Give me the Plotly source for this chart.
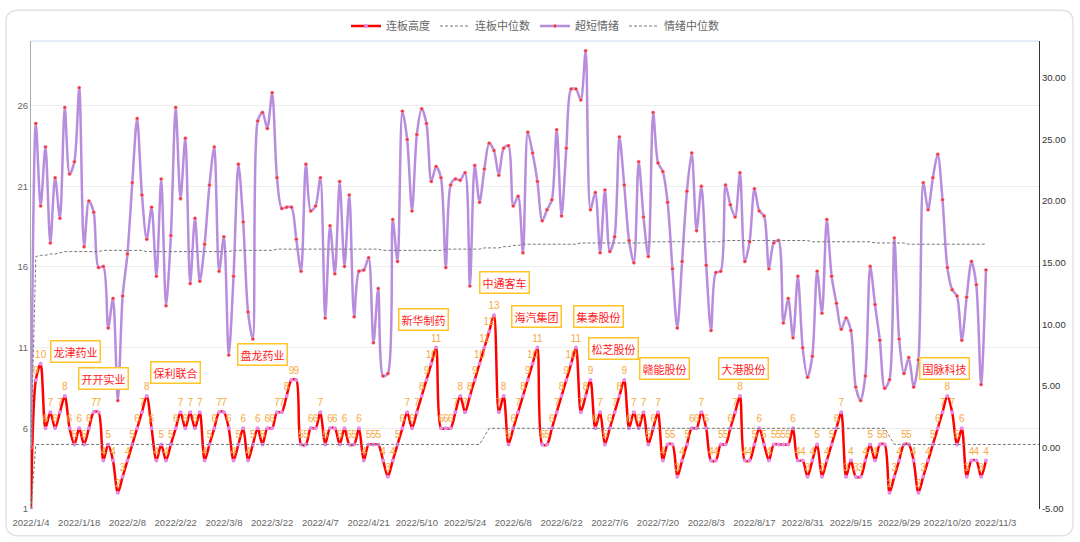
import pandas as pd
import plotly.graph_objects as go

# ---------------- data ----------------
holidays = ['2022-01-31', '2022-02-01', '2022-02-02', '2022-02-03', '2022-02-04',
            '2022-04-04', '2022-04-05', '2022-05-02', '2022-05-03', '2022-05-04',
            '2022-06-03', '2022-09-12', '2022-10-03', '2022-10-04', '2022-10-05',
            '2022-10-06', '2022-10-07']
all_days = pd.bdate_range('2022-01-04', '2022-12-31')
trade_days = [d for d in all_days if d.strftime('%Y-%m-%d') not in holidays][:210]
date_labels = [f"{d.year}/{d.month}/{d.day}" for d in trade_days]

# 连板高度 (left axis)
board_height = [1, 9, 10, 6, 7, 6, 7, 8, 6, 5, 6, 5, 6, 7, 7, 4, 5, 4, 2, 3,
                4, 5, 6, 7, 8, 6, 4, 5, 4, 5, 6, 7, 6, 7, 6, 7, 4, 5, 6, 7,
                7, 6, 4, 5, 6, 4, 5, 6, 5, 6, 6, 7, 7, 8, 9, 9, 5, 5, 6, 6,
                7, 5, 6, 6, 5, 6, 5, 5, 6, 4, 5, 5, 5, 4, 3, 4, 5, 6, 7, 6,
                7, 8, 9, 10, 11, 6, 6, 6, 7, 8, 7, 8, 9, 10, 11, 12, 13, 7, 8, 5,
                6, 7, 8, 9, 10, 11, 5, 5, 6, 7, 8, 9, 10, 11, 7, 8, 9, 6, 7, 5,
                6, 7, 8, 9, 6, 7, 6, 7, 5, 6, 7, 4, 5, 5, 3, 4, 5, 6, 6, 7,
                6, 4, 4, 5, 5, 6, 7, 8, 4, 4, 5, 6, 5, 4, 5, 5, 5, 5, 6, 4,
                4, 3, 4, 5, 3, 4, 5, 6, 7, 3, 4, 3, 3, 4, 5, 4, 5, 5, 2, 3,
                4, 5, 5, 4, 2, 3, 4, 5, 6, 7, 8, 7, 5, 6, 3, 4, 4, 3, 4]

# 连板中位数 (left axis)
board_median = ([1] + [5] * 93 + [5.5] + [6] * 83 + [5.5] + [5] * 31)

# 超短情绪 (right axis)
sentiment = [0, 26.3, 19.6, 24.4, 16.6, 21.9, 18.6, 27.6, 22.2, 23.2,
             29.2, 16.3, 20.0, 19.1, 14.6, 14.7, 9.7, 12.1, 3.8, 12.3,
             15.7, 21.5, 26.7, 20.5, 16.9, 19.5, 13.9, 21.8, 11.5, 17.2,
             27.6, 20.2, 25.1, 13.3, 18.6, 13.5, 16.5, 21.3, 24.4, 14.3,
             17.1, 7.5, 13.9, 23.0, 18.3, 11.0, 8.8, 26.5, 27.2, 25.9,
             28.8, 21.9, 19.4, 19.5, 19.5, 16.9, 14.3, 23.0, 19.2, 19.6,
             21.9, 10.5, 18.0, 14.1, 21.6, 14.7, 20.5, 10.6, 14.3, 14.4,
             15.4, 8.5, 12.9, 5.8, 6.0, 18.5, 15.1, 27.3, 25.0, 19.2,
             25.4, 27.5, 26.3, 21.6, 22.8, 21.9, 14.6, 21.3, 21.8, 21.7,
             22.3, 13.1, 22.9, 19.9, 22.6, 24.7, 24.1, 22.1, 24.3, 24.5,
             19.6, 20.4, 15.8, 25.6, 23.9, 21.6, 18.4, 19.3, 20.1, 25.8,
             18.8, 24.3, 29.1, 29.1, 28.2, 32.2, 19.3, 20.7, 15.8, 20.9,
             15.9, 17.1, 25.2, 21.3, 16.8, 15.0, 23.2, 18.7, 15.5, 27.2,
             23.1, 22.4, 19.9, 14.5, 9.7, 15.1, 20.8, 23.9, 17.6, 21.2,
             14.8, 9.5, 14.2, 14.3, 21.3, 19.7, 18.7, 22.3, 15.1, 16.7,
             21.0, 19.2, 18.8, 14.5, 16.6, 16.8, 10.1, 12.1, 8.9, 13.9,
             8.1, 5.7, 7.4, 14.3, 10.9, 18.5, 13.9, 11.7, 9.6, 10.5,
             9.5, 4.9, 3.8, 5.8, 14.7, 11.6, 8.7, 4.8, 5.5, 17.0,
             8.8, 6.0, 7.3, 4.9, 7.1, 21.5, 19.3, 21.9, 23.8, 20.1,
             14.6, 12.8, 12.3, 8.7, 12.2, 15.1, 13.2, 5.1, 14.4]

# 情绪中位数 (right axis)
sentiment_median = [0, 15.5, 15.6, 15.6, 15.7,
                    15.7, 15.8, 15.9, 15.9, 15.9,
                    15.9, 15.9, 15.9, 15.9, 15.9, 16.0, 16.0, 16.0, 16.0, 16.0,
                    16.0, 16.0, 16.0, 16.0, 15.9, 15.9, 15.9, 15.9, 15.9, 15.9,
                    15.9, 15.9, 15.9, 15.9, 15.9, 15.9, 15.9, 15.9, 15.9, 15.9,
                    15.9, 15.9, 16.0, 16.0, 16.0, 16.0, 16.0, 16.0, 16.0, 16.0,
                    16.0, 16.1, 16.1, 16.1, 16.1, 16.1, 16.1, 16.1, 16.1, 16.1,
                    16.1, 16.1, 16.1, 16.1, 16.1, 16.1, 16.1, 16.1, 16.1, 16.1,
                    16.1, 16.1, 16.1, 16.0, 16.0, 16.0, 16.0, 16.0, 16.0, 16.0,
                    16.0, 16.0, 16.0, 16.0, 16.0, 16.0, 16.1, 16.1, 16.1, 16.1,
                    16.1, 16.1, 16.1, 16.1, 16.2, 16.2, 16.2, 16.2, 16.3, 16.3,
                    16.4, 16.4, 16.5, 16.5, 16.5, 16.5, 16.5, 16.5, 16.5, 16.5,
                    16.5, 16.5, 16.5, 16.5, 16.6, 16.6, 16.6, 16.6, 16.6, 16.6,
                    16.6, 16.6, 16.6, 16.6, 16.6, 16.6, 16.6, 16.6, 16.7, 16.7,
                    16.7, 16.7, 16.7, 16.7, 16.7, 16.7, 16.7, 16.7, 16.7, 16.7,
                    16.7, 16.7, 16.7, 16.7, 16.8, 16.8, 16.8, 16.8, 16.8, 16.8,
                    16.8, 16.8, 16.8, 16.8, 16.8, 16.8, 16.8, 16.8, 16.8, 16.8,
                    16.8, 16.8, 16.7, 16.7, 16.7, 16.7, 16.7, 16.7, 16.7, 16.7,
                    16.7, 16.7, 16.7, 16.7, 16.7, 16.6, 16.6, 16.6, 16.6, 16.6,
                    16.6, 16.6, 16.5, 16.5, 16.5, 16.5, 16.5, 16.5, 16.5, 16.5,
                    16.5, 16.5, 16.5, 16.5, 16.5, 16.5, 16.5, 16.5, 16.5]

# leader stock callouts: name, x (trading-day index), y (left-axis value)
leader_names = ['龙津药业', '开开实业', '保利联合', '盘龙药业', '新华制药', '中通客车',
                '海汽集团', '集泰股份', '松芝股份', '赣能股份', '大港股份', '国脉科技']
leader_x = [9.2, 15.0, 29.9, 47.9, 81.4, 98.1, 104.8, 117.6, 120.8, 131.4, 147.7, 189.5]
leader_y = [10.77, 9.09, 9.48, 10.56, 12.76, 15.05, 12.94, 12.94, 10.95, 9.68, 9.70, 9.70]

left_ticks = [1, 6, 11, 16, 21, 26]
left_grid = [1, 4, 7, 10, 13, 16, 19, 22, 25, 28]
right_ticks = [-5, 0, 5, 10, 15, 20, 25, 30]
x_tick_idx = list(range(0, 201, 10))

# ---------------- figure ----------------
xs_main = list(range(len(board_height)))
xs_bm = list(range(len(board_median)))
labels = [''] + [str(v) for v in board_height[1:]]

fig = go.Figure()

fig.add_trace(go.Scatter(
    x=xs_main, y=board_height, name='连板高度', mode='lines+markers+text',
    line=dict(color='#FF0000', width=2.5, shape='spline', smoothing=0.8),
    marker=dict(color='#E58AE6', size=4),
    text=labels, textposition='top center',
    textfont=dict(color='#F5A93E', size=10, family='Liberation Sans'),
    yaxis='y'))

fig.add_trace(go.Scatter(
    x=xs_bm, y=board_median, name='连板中位数', mode='lines',
    line=dict(color='#777777', width=1, dash='3px,2px'),
    yaxis='y'))

fig.add_trace(go.Scatter(
    x=xs_main, y=sentiment, name='超短情绪', mode='lines+markers',
    line=dict(color='#B88DDE', width=2.5, shape='spline', smoothing=0.8),
    marker=dict(color='#F0303A', size=3.5, line=dict(color='#F7B0C8', width=0.5)),
    yaxis='y2'))

fig.add_trace(go.Scatter(
    x=xs_main, y=sentiment_median, name='情绪中位数', mode='lines',
    line=dict(color='#777777', width=1, dash='3px,2px'),
    yaxis='y2'))

# callout boxes
for name, xv, yv in zip(leader_names, leader_x, leader_y):
    fig.add_annotation(x=xv, y=yv, xref='x', yref='y', text=name, showarrow=False,
                       font=dict(color='#FF1A1A', size=11, family='Noto Sans CJK SC'),
                       bgcolor='#FFFFFF', bordercolor='#FFC526', borderwidth=1.5,
                       borderpad=2)

# card border (rounded)
W, H = 1008.0, 472.0
x0, x1 = (6 - 31) / W, (1073 - 31) / W
y1, y0 = 1 + (37 - 6) / H, (509 - 536) / H
rx, ry = 12 / W, 12 / H
path = (f"M{x0+rx},{y1} L{x1-rx},{y1} Q{x1},{y1} {x1},{y1-ry} L{x1},{y0+ry} "
        f"Q{x1},{y0} {x1-rx},{y0} L{x0+rx},{y0} Q{x0},{y0} {x0},{y0+ry} "
        f"L{x0},{y1-ry} Q{x0},{y1} {x0+rx},{y1} Z")
fig.add_shape(type='path', path=path, xref='paper', yref='paper',
              line=dict(color='#E3E3E3', width=1.5), layer='below')
fig.add_shape(type='line', x0=0, x1=1, y0=1, y1=1, xref='paper', yref='paper',
              line=dict(color='#C9D8EC', width=1))

fig.update_layout(
    width=1080, height=542,
    margin=dict(l=31, r=41, t=37, b=33),
    paper_bgcolor='#FFFFFF', plot_bgcolor='#FFFFFF',
    font=dict(family='Liberation Sans, Noto Sans CJK SC', color='#666666'),
    showlegend=True,
    legend=dict(orientation='h', x=0.5, xanchor='center', y=1.032, yanchor='middle',
                font=dict(size=11, color='#666666', family='Noto Sans CJK SC'),
                itemwidth=30, tracegroupgap=0, bgcolor='rgba(0,0,0,0)'),
    xaxis=dict(range=[0, 209], tickvals=x_tick_idx,
               ticktext=[date_labels[i] for i in x_tick_idx],
               showgrid=False, zeroline=False, showline=False,
               tickfont=dict(size=9.5, color='#666666'), ticks='',
               ticklabelstandoff=6),
    yaxis=dict(range=[1, 30], tickvals=left_ticks, showgrid=True, gridcolor='#EDEDED',
               zeroline=False, showline=True, linecolor='#AAAAAA', linewidth=1,
               tickfont=dict(size=9.5, color='#666666'), ticks=''),
    yaxis3=dict(range=[1, 30], tickvals=left_grid, showgrid=True, gridcolor='#EDEDED',
                overlaying='y', showticklabels=False, zeroline=False, showline=False),
    yaxis2=dict(range=[-5, 33], tickvals=right_ticks,
                ticktext=[f"{v:.2f}" for v in right_ticks],
                overlaying='y', side='right', showgrid=False, zeroline=False,
                showline=True, linecolor='#333333', linewidth=1,
                tickfont=dict(size=9.5, color='#333333'), ticks=''),
)

fig.write_html('out.html')
